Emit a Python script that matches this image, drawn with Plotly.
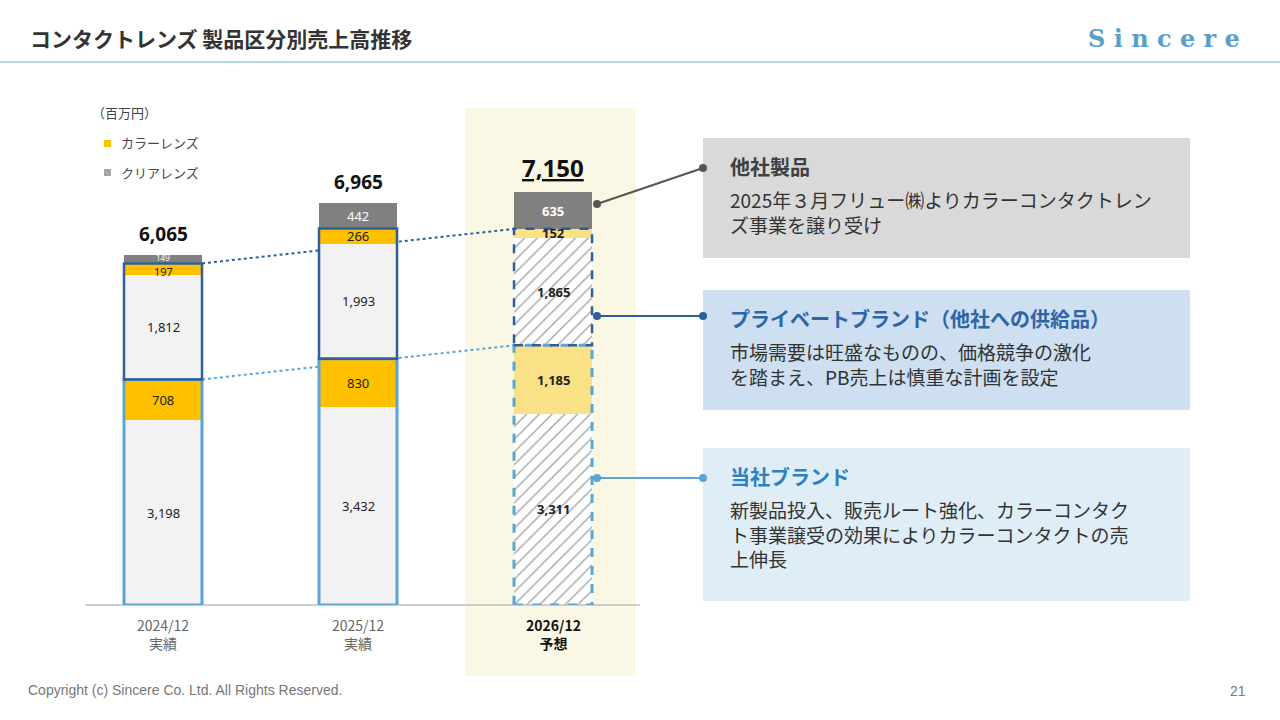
import plotly.graph_objects as go

cats = ["2024/12", "2025/12", "2026/12"]
sub = ["実績", "実績", "予想"]
own_clear = [3198, 3432, 3311]
own_color = [708, 830, 1185]
pb_clear = [1812, 1993, 1865]
pb_color = [197, 266, 152]
other = [149, 442, 635]
totals = [6065, 6965, 7150]

W, H = 1280, 720
def px(x): return x / W
def py(y): return 1 - y / H

xs = [0, 1, 2]
bw = 0.4
fig = go.Figure()
series = [
    (own_clear, ["#f2f2f2", "#f2f2f2", "#ffffff"], ["", "", "/"]),
    (own_color, ["#ffc000", "#ffc000", "#fae186"], ["", "", ""]),
    (pb_clear, ["#f2f2f2", "#f2f2f2", "#ffffff"], ["", "", "/"]),
    (pb_color, ["#ffc000", "#ffc000", "#fae186"], ["", "", ""]),
    (other, ["#808080", "#808080", "#808080"], ["", "", ""]),
]
for vals, cols, pats in series:
    fig.add_trace(go.Bar(x=xs, y=vals, width=bw, marker=dict(color=cols, line=dict(width=0),
                  pattern=dict(shape=pats, fgcolor="#d0d0d0", size=9, solidity=0.15)),
                  hoverinfo="skip", showlegend=False))

fig.update_layout(barmode="stack", width=W, height=H, margin=dict(l=0, r=0, t=0, b=0),
                  paper_bgcolor="white", plot_bgcolor="rgba(0,0,0,0)",
                  font=dict(family="Noto Sans CJK JP", color="#333"))
fig.update_xaxes(domain=[px(85), px(640)], range=[-0.4, 2.446], visible=False)
fig.update_yaxes(domain=[py(605), py(143)], range=[0, 8000], visible=False)

shapes, ann = [], []
shapes.append(dict(type="rect", xref="paper", yref="paper", x0=px(465), x1=px(636), y0=py(676), y1=py(108),
                   fillcolor="#faf7e4", line=dict(width=0), layer="below"))
shapes.append(dict(type="line", xref="paper", yref="paper", x0=px(85), x1=px(640), y0=py(605), y1=py(605),
                   line=dict(color="#bfbfbf", width=1.5)))
shapes.append(dict(type="line", xref="paper", yref="paper", x0=0, x1=1, y0=py(62), y1=py(62),
                   line=dict(color="#9cc8de", width=1.5)))

for i in xs:
    o1 = own_clear[i] + own_color[i]
    p1 = o1 + pb_clear[i] + pb_color[i]
    dash = "dash" if i == 2 else "solid"
    shapes.append(dict(type="rect", x0=i - bw / 2, x1=i + bw / 2, y0=0, y1=o1,
                       line=dict(color="#5aa5d3", width=3, dash=dash)))
    shapes.append(dict(type="rect", x0=i - bw / 2, x1=i + bw / 2, y0=o1, y1=p1,
                       line=dict(color="#2f5f98", width=2.5, dash=dash)))
    base = 0
    for k, (vals, _, _) in enumerate(series):
        v = vals[i]
        col = "white" if k == 4 else "#222"
        size = 13
        shift = 0
        if i == 0 and k == 3:
            size, shift = 11, -2
        if i == 0 and k == 4:
            size, shift = 8, 2
        ann.append(dict(x=i, y=base + v / 2, text=f"<b>{v:,}</b>" if i == 2 else f"{v:,}", showarrow=False,
                        yanchor="middle", font=dict(size=size, color=col, family="Noto Sans"), yshift=shift))
        base += v
    tsize = 24 if i == 2 else 19
    t = f"<b><u>{totals[i]:,}</u></b>" if i == 2 else f"<b>{totals[i]:,}</b>"
    ann.append(dict(x=i, y=totals[i], text=t, showarrow=False, yanchor="bottom", yshift=6,
                    font=dict(size=tsize, color="#111", family="Noto Sans")))
    c = "#111" if i == 2 else "#666"
    lab = f"<b>{cats[i]}<br>{sub[i]}</b>" if i == 2 else f"{cats[i]}<br>{sub[i]}"
    ann.append(dict(x=i, y=0, text=lab, showarrow=False, yanchor="top", yshift=-8,
                    font=dict(size=14, color=c, family="Noto Sans CJK JP")))

o = [own_clear[i] + own_color[i] for i in xs]
p = [o[i] + pb_clear[i] + pb_color[i] for i in xs]
shapes.append(dict(type="line", x0=bw / 2, y0=o[0], x1=2 - bw / 2, y1=o[2], line=dict(color="#5aa5d3", width=2, dash="dot"), layer="below"))
shapes.append(dict(type="line", x0=bw / 2, y0=p[0], x1=2 - bw / 2, y1=p[2], line=dict(color="#2f5f98", width=2, dash="dot"), layer="below"))

def pann(x, y, text, size, color, xanchor="left", yanchor="middle", family=None, align="left"):
    f = dict(size=size, color=color)
    if family:
        f["family"] = family
    ann.append(dict(xref="paper", yref="paper", x=px(x), y=py(y), text=text, showarrow=False,
                    xanchor=xanchor, yanchor=yanchor, align=align, font=f))

pann(90, 112, "（百万円）", 13, "#444")
for yy, colr, txt in [(143, "#ffc000", "カラーレンズ"), (172, "#a6a6a6", "クリアレンズ")]:
    shapes.append(dict(type="rect", xref="paper", yref="paper", x0=px(104), x1=px(111), y0=py(yy + 4), y1=py(yy - 3), fillcolor=colr, line=dict(width=0)))
    pann(119, yy, txt, 13, "#444")

boxes = [
    (138, 258, "#d9d9d9", "他社製品", "#404040", "2025年３月フリュー㈱よりカラーコンタクトレン<br>ズ事業を譲り受け", 168, "#555555", (597, 204)),
    (290, 410, "#cddff1", "プライベートブランド（他社への供給品）", "#2d66a6", "市場需要は旺盛なものの、価格競争の激化<br>を踏まえ、PB売上は慎重な計画を設定", 316, "#2f5f98", (597, 316)),
    (448, 601, "#deedf6", "当社ブランド", "#2e80c0", "新製品投入、販売ルート強化、カラーコンタク<br>ト事業譲受の効果によりカラーコンタクトの売<br>上伸長", 478, "#5aa5d3", (597, 478)),
]
for y0, y1, fill, title, tcol, body, ly, lcol, start in boxes:
    shapes.append(dict(type="rect", xref="paper", yref="paper", x0=px(703), x1=px(1190), y0=py(y1), y1=py(y0), fillcolor=fill, line=dict(width=0), layer="below"))
    pann(728, y0 + 28, f"<b>{title}</b>", 20, tcol)
    pann(728, y0 + 46, body, 19, "#333", yanchor="top")
    shapes.append(dict(type="line", xref="paper", yref="paper", x0=px(start[0]), y0=py(start[1]), x1=px(703), y1=py(ly), line=dict(color=lcol, width=2)))
    for (cx, cy) in [start, (703, ly)]:
        shapes.append(dict(type="circle", xref="paper", yref="paper", x0=px(cx - 4), x1=px(cx + 4), y0=py(cy + 4), y1=py(cy - 4), fillcolor=lcol, line=dict(width=0)))

pann(28, 38, "<b>コンタクトレンズ 製品区分別売上高推移</b>", 21, "#333")
pann(1242, 38, "<b>S i n c e r e</b>", 24, "#5a9fc8", xanchor="right", family="DejaVu Serif")
pann(26, 690, "Copyright (c) Sincere Co. Ltd. All Rights Reserved.", 14, "#777", family="Liberation Sans")
pann(1248, 691, "21", 14, "#777", xanchor="right", family="Liberation Sans")

fig.update_layout(shapes=shapes, annotations=ann)
fig.write_html("out.html", config={"displayModeBar": False})
with open("out.html", encoding="utf-8") as f:
    html = f.read()
html = html.replace("<head>", "<head><style>html,body{margin:0;padding:0;overflow:hidden}</style>", 1)
with open("out.html", "w", encoding="utf-8") as f:
    f.write(html)
